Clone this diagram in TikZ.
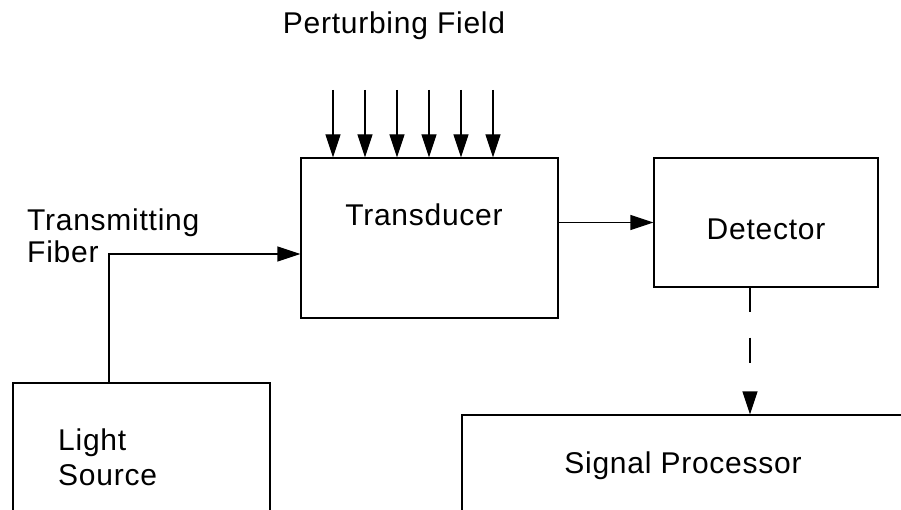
\documentclass[tikz,border=0pt]{standalone}
\usepackage{fontspec}
\setmainfont{Liberation Sans}[LetterSpace=2.5]
\usetikzlibrary{arrows.meta}
\begin{document}
\begin{tikzpicture}[x=1pt,y=-1pt,
  box/.style={draw,line width=1.2pt,inner sep=0pt},
  txt/.style={anchor=base,inner sep=0pt,font=\fontsize{30}{35}\selectfont},
  conn/.style={line width=1.2pt},
  tipx/.style={-{Triangle[length=23pt,width=15pt]}}]
\useasboundingbox (0,0) rectangle (901,510);
\clip (0,0) rectangle (901,510);
% boxes
\node[box,minimum width=257pt,minimum height=160pt] (td) at (429.5,238) {};
\node[box,minimum width=224pt,minimum height=129pt] (det) at (766,222.5) {};
\node[box,minimum width=257pt,minimum height=180pt] (ls) at (141.5,473) {};
\node[box,minimum width=500pt,minimum height=180pt] (sp) at (712,505) {};
% texts
\node[txt] (tpf) at (394,34) {Perturbing Field};
\node[txt] (ttd) at (424,226) {Transducer};
\node[txt] (tdet) at (766,240) {Detector};
\node[txt,anchor=base west] (ttf1) at (27,231) {Transmitting};
\node[txt,anchor=base west] (ttf2) at (27,263) {Fiber};
\node[txt,anchor=base west] (tls1) at (58,450) {Light};
\node[txt,anchor=base west] (tls2) at (58,485) {Source};
\node[txt] (tsp) at (683,473) {Signal Processor};
% perturbing field arrows
\foreach \i/\x in {1/333,2/365,3/397,4/429,5/461,6/493}{
  \coordinate (p\i) at (\x,90);
  \draw[conn,tipx] (p\i) -- (p\i |- td.north);
}
% fiber
\coordinate (f) at (109,254);
\draw[conn,tipx] (ls.north -| f) -- (f) -- (f -| td.west);
% transducer to detector
\draw[conn,tipx] (td.east |- det.west) -- (det.west);
% detector to signal processor (dashed)
\coordinate (dx) at (750,0);
\draw[conn,tipx,dash pattern=on 24pt off 26pt on 25pt off 60pt] (det.south -| dx) -- (sp.north -| dx);
\end{tikzpicture}
\end{document}
